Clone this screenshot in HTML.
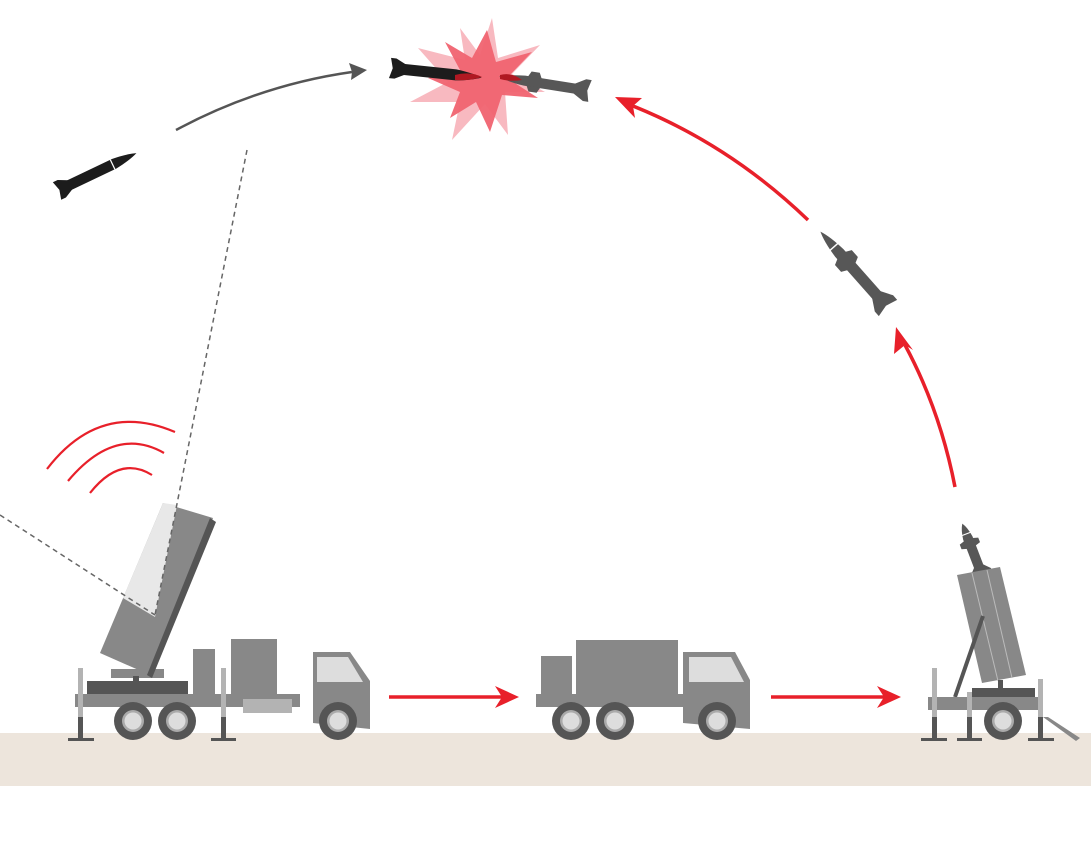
<!DOCTYPE html>
<html><head><meta charset="utf-8"><style>html,body{margin:0;padding:0;background:#fff}svg{display:block}</style></head>
<body>
<svg width="1091" height="848" viewBox="0 0 1091 848" xmlns="http://www.w3.org/2000/svg">
<defs>
<g id="mis">
<path d="M8,-6 L72,-6 Q90,-4 100,0 Q90,4 72,6 L8,6 Z"/>
<path d="M0,-11 L6,-11 L18,-5 L18,5 L6,11 L0,11 L3,0 Z"/>
</g>
<g id="mis2">
<path d="M8,-5.5 L72,-5.5 Q90,-4 100,0 Q90,4 72,5.5 L8,5.5 Z"/>
<path d="M0,-12 L6,-12 L18,-5 L18,5 L6,12 L0,12 L3,0 Z"/>
<path d="M54,-5 L57,-11 L66,-11 L69,-5 Z M54,5 L57,11 L66,11 L69,5 Z"/>
</g>
</defs>
<rect x="0" y="733" width="1091" height="53" fill="#ede5dc"/>
<!-- explosion -->
<polygon fill="#f8b9c0" points="492,18 498,58 540,45 512,74 545,92 505,92 508,135 485,104 452,140 460,102 410,102 448,82 418,48 465,60 460,28 480,55" />
<polygon fill="#f06370" opacity="0.95" points="487,30 496,62 532,52 507,78 538,98 502,95 490,132 476,102 450,118 460,92 428,78 460,70 445,42 472,58" />
<!-- missiles -->
<g fill="#1c1c1c" transform="translate(57,191) rotate(-25.5) scale(0.88)"><use href="#mis"/><line x1="70" y1="-6" x2="70" y2="6" stroke="#fff" stroke-width="1.4"/></g>
<g fill="#1c1c1c" transform="translate(390,68) rotate(6) scale(0.92)"><use href="#mis"/></g>
<g fill="#575757" transform="translate(590,91) rotate(189) scale(0.92)"><use href="#mis2"/></g>
<path d="M455,75 Q470,71 482,77 Q470,81 455,80Z" fill="#b01822"/>
<path d="M500,75 Q512,72 522,80 Q510,82 500,79Z" fill="#b01822"/>
<g fill="#575757" transform="translate(888,308) rotate(-131.5) scale(1.02)"><use href="#mis2"/><line x1="80" y1="-6" x2="80" y2="6" stroke="#fff" stroke-width="1.4"/></g>
<g fill="#575757" transform="translate(982,575) rotate(-111) scale(0.55,0.9)"><use href="#mis2"/><line x1="80" y1="-6" x2="80" y2="6" stroke="#fff" stroke-width="2"/></g>
<!-- arrows -->
<path d="M176,130 Q260,85 352,72" fill="none" stroke="#555" stroke-width="2.5"/>
<polygon points="367,70 349,63 352,72 351,80" fill="#555"/>
<g stroke="#e8202a" stroke-width="3.5" fill="none">
<path d="M955,487 Q940,410 905,345"/>
<path d="M808,220 Q730,145 633,106"/>
<line x1="389" y1="697" x2="503" y2="697"/>
<line x1="771" y1="697" x2="885" y2="697"/>
</g>
<g fill="#e8202a">
<polygon points="896,327 913,350 905,345 894,354"/>
<polygon points="615,97 642,98 633,106 635,118"/>
<polygon points="519,697 495,686 502,697 495,708"/>
<polygon points="901,697 877,686 884,697 877,708"/>
</g>
<g stroke="#e8202a" stroke-width="2.2" fill="none">
<path d="M47,469 Q100,400 175,432"/>
<path d="M68,481 Q115,425 164,453"/>
<path d="M90,493 Q120,455 152,475"/>
</g>
<!-- radar truck -->
<rect x="111" y="669" width="53" height="9" fill="#888"/>
<rect x="133" y="676" width="6" height="6" fill="#555"/>
<polygon points="163,503 213,518 150,675 100,653" fill="#888"/>
<polygon points="210,518 216,522 152,678 147,675" fill="#555"/>
<polygon points="163,503 177,505 155,617 123,598" fill="#e8e8e8"/>
<line x1="247" y1="150" x2="155" y2="615" stroke="#666" stroke-width="1.5" stroke-dasharray="5,4"/>
<line x1="0" y1="515" x2="155" y2="615" stroke="#666" stroke-width="1.5" stroke-dasharray="5,4"/>
<rect x="87" y="681" width="101" height="13" fill="#555"/>
<rect x="75" y="694" width="225" height="13" fill="#888"/>
<rect x="193" y="649" width="22" height="45" fill="#888"/>
<rect x="231" y="639" width="46" height="55" fill="#888"/>
<rect x="243" y="699" width="49" height="14" fill="#b3b3b3"/>
<polygon points="313,652 350,652 370,681 370,729 313,723" fill="#888"/>
<polygon points="317,657 348,657 363,682 317,682" fill="#ddd"/>
<g fill="#555"><rect x="78" y="717" width="5" height="21"/><rect x="68" y="738" width="26" height="3"/><rect x="221" y="717" width="5" height="21"/><rect x="211" y="738" width="25" height="3"/></g>
<g fill="#b3b3b3"><rect x="78" y="668" width="5" height="49"/><rect x="221" y="668" width="5" height="49"/></g>
<g id="w"><circle cx="133" cy="721" r="19" fill="#555"/><circle cx="133" cy="721" r="11" fill="#aaa"/><circle cx="133" cy="721" r="8.5" fill="#ddd"/></g>
<use href="#w" x="44"/><use href="#w" x="205"/>
<!-- middle truck -->
<rect x="576" y="640" width="102" height="54" fill="#888"/>
<rect x="541" y="656" width="31" height="38" fill="#888"/>
<rect x="536" y="694" width="164" height="13" fill="#888"/>
<polygon points="683,652 735,652 750,680 750,729 683,723" fill="#888"/>
<polygon points="689,657 731,657 744,682 689,682" fill="#ddd"/>
<use href="#w" x="438"/><use href="#w" x="482"/><use href="#w" x="584"/>
<!-- launcher -->
<polygon points="957,575 1000,567 1026,675 982,683" fill="#888"/>
<line x1="972" y1="573" x2="998" y2="681" stroke="#bbb" stroke-width="1"/>
<line x1="987" y1="570" x2="1012" y2="678" stroke="#bbb" stroke-width="1"/>
<rect x="998" y="680" width="5" height="10" fill="#555"/>
<line x1="955" y1="697" x2="983" y2="616" stroke="#555" stroke-width="4"/>
<rect x="972" y="688" width="63" height="9" fill="#555"/>
<rect x="928" y="697" width="110" height="13" fill="#888"/>
<polygon points="1043,717 1048,717 1080,738 1076,741" fill="#888"/>
<g fill="#555"><rect x="932" y="717" width="5" height="21"/><rect x="921" y="738" width="26" height="3"/><rect x="967" y="717" width="5" height="21"/><rect x="957" y="738" width="25" height="3"/><rect x="1038" y="717" width="5" height="21"/><rect x="1028" y="738" width="26" height="3"/></g>
<g fill="#b3b3b3"><rect x="932" y="668" width="5" height="49"/><rect x="967" y="692" width="5" height="25"/><rect x="1038" y="679" width="5" height="38"/></g>
<use href="#w" x="870"/>
</svg>
</body></html>
